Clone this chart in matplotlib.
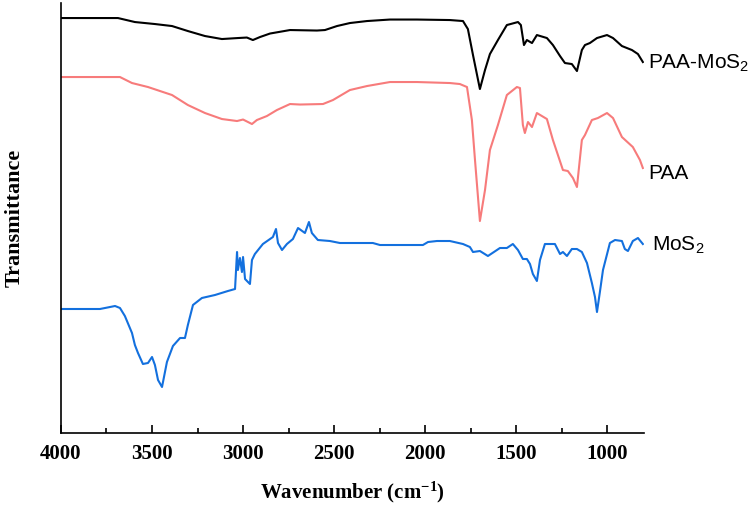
import matplotlib
matplotlib.use('Agg')
import matplotlib.pyplot as plt

plt.rcParams['mathtext.default'] = 'regular'

# PAA-MoS2 spectrum (wavenumber cm-1, transmittance a.u.)
paa_mos2_x = [4000, 3687, 3594, 3484, 3390, 3303, 3209, 3116, 3028, 2979, 2946, 2907, 2852,
              2742, 2594, 2550, 2484, 2413, 2319, 2193, 2045, 1864, 1792, 1765, 1737, 1699,
              1671, 1644, 1600, 1551, 1490, 1474, 1457, 1441, 1413, 1386, 1331, 1298, 1259,
              1232, 1194, 1166, 1139, 1122, 1095, 1056, 1001, 968, 919, 864, 831, 804]
paa_mos2_y = [415, 415, 411, 409, 407, 402, 397, 394, 395, 395.5, 393, 396, 399.5,
              403, 402.5, 403, 407, 410, 412, 413.5, 413.5, 413, 412, 404, 378, 344,
              363, 379, 393, 408, 411, 408, 388, 393, 390, 398, 395, 388, 377,
              370, 369, 362, 383, 388, 390, 395, 398, 395, 387, 383, 379, 371]

# PAA spectrum
paa_x = [4000, 3676, 3610, 3522, 3390, 3303, 3209, 3116, 3033, 3000, 2951, 2924, 2869,
         2814, 2742, 2687, 2561, 2506, 2413, 2319, 2193, 2045, 1864, 1809, 1770, 1743,
         1726, 1699, 1671, 1644, 1600, 1551, 1496, 1479, 1463, 1452, 1435, 1413, 1386,
         1331, 1298, 1243, 1216, 1188, 1166, 1139, 1122, 1084, 1051, 1001, 968, 919,
         859, 820, 804]
paa_y = [356, 356, 350, 346, 338, 328, 320, 314, 312, 313.5, 309, 313, 317,
         323, 329, 328.5, 329, 333, 343, 347, 351, 351, 350, 349, 346, 313,
         273, 212, 243, 283, 308, 338, 346, 345, 308, 300, 311, 306, 320,
         314, 293, 263, 262, 255, 246, 293, 298, 313, 315, 320, 315, 296,
         286, 273, 265]

# MoS2 spectrum
mos2_x = [4000, 3786, 3758, 3703, 3676, 3649, 3610, 3594, 3577, 3550, 3522, 3500, 3484,
          3467, 3445, 3418, 3385, 3346, 3319, 3303, 3275, 3226, 3154, 3083, 3044, 3033,
          3028, 3017, 3006, 3000, 2989, 2973, 2962, 2951, 2935, 2891, 2836, 2819, 2808,
          2786, 2759, 2726, 2698, 2660, 2638, 2622, 2589, 2523, 2468, 2287, 2248, 2012,
          1984, 1935, 1864, 1792, 1754, 1737, 1699, 1655, 1589, 1551, 1518, 1490, 1463,
          1441, 1424, 1408, 1386, 1369, 1342, 1287, 1259, 1243, 1221, 1194, 1166, 1139,
          1111, 1084, 1067, 1056, 1040, 1023, 985, 957, 919, 903, 886, 859, 831, 804]
mos2_y = [124, 124, 125, 127, 125, 117, 100, 88, 80, 69, 70, 76, 68,
          53, 46, 71, 87, 95, 95, 108, 128, 135, 138, 142, 144, 181,
          163, 175, 161, 176, 154, 151, 149, 173, 179, 189, 196, 204, 190,
          183, 189, 194, 205, 200, 211, 200, 193, 192, 190, 190, 188, 188,
          191, 192, 192, 189, 186, 181, 182, 177, 185, 185, 189, 183, 174,
          174, 169, 159, 152, 173, 189, 189, 179, 181, 177, 184, 184, 181,
          170, 150, 136, 121, 141, 163, 190, 193, 192, 184, 182, 192, 195, 189]

labels = ['PAA-MoS$_2$', 'PAA', 'MoS$_2$']
label_pos = [(776, 370), (776, 260), (754, 188)]

fig = plt.figure(figsize=(7.5, 5.07), dpi=100)
ax = fig.add_axes([0.0813, 0.146, 0.7773, 0.848])

ax.plot(paa_mos2_x, paa_mos2_y, color='black', lw=1.5)
ax.plot(paa_x, paa_y, color='#f77b7b', lw=1.5)
ax.plot(mos2_x, mos2_y, color='#1370de', lw=1.5)

for lab, (lx, ly) in zip(labels, label_pos):
    ax.text(lx, ly, lab, fontsize=15, family='Liberation Sans', va='center', ha='left',
            clip_on=False)

ax.set_xlim(4000, 798)
ax.set_ylim(0, 430)
ax.set_xticks([4000, 3500, 3000, 2500, 2000, 1500, 1000])
ax.set_xticks([3750, 3250, 2750, 2250, 1750, 1250], minor=True)
ax.set_yticks([])
ax.spines['top'].set_visible(False)
ax.spines['right'].set_visible(False)
ax.spines['left'].set_linewidth(1.2)
ax.spines['bottom'].set_linewidth(1.2)
ax.tick_params(axis='x', which='major', direction='in', length=6, width=1.2, pad=8)
ax.tick_params(axis='x', which='minor', direction='in', length=3.5, width=1.2)
for t in ax.get_xticklabels():
    t.set_fontfamily('Liberation Serif')
    t.set_fontweight('bold')
    t.set_fontsize(15)

ax.set_xlabel('Wavenumber (cm$^{-1}$)', fontsize=15, family='Liberation Serif',
              fontweight='bold', labelpad=11)
ax.set_ylabel('Transmittance', fontsize=16, family='Liberation Serif',
              fontweight='bold', labelpad=26)

fig.savefig('out.png', dpi=100)
